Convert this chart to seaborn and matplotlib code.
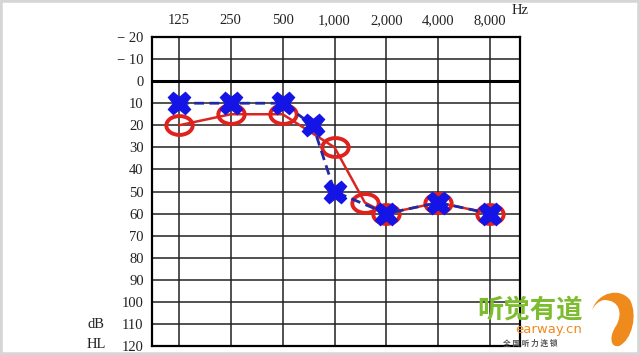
import matplotlib
matplotlib.use("Agg")
import matplotlib.pyplot as plt
import numpy as np
import pandas as pd
import seaborn as sns
from matplotlib.path import Path
from matplotlib.patches import PathPatch, Rectangle
from matplotlib.transforms import Affine2D

# audiogram data (Hz -> dB HL)
freq_labels = ["125", "250", "500", "1,000", "2,000", "4,000", "8,000"]
grid_freqs = [125, 250, 500, 1000, 2000, 4000, 8000]
db_ticks = list(range(-20, 130, 10))

right_freqs = [125, 250, 500, 1000, 1500, 2000, 4000, 8000]
right_db = [20, 15, 15, 30, 55, 60, 55, 60]

left_freqs = [125, 250, 500, 750, 1000, 2000, 4000, 8000]
left_db = [10, 10, 10, 20, 50, 60, 55, 60]

sns.set_theme(style="white")
plt.rcParams["font.family"] = ["Liberation Serif", "DejaVu Serif"]

fig = plt.figure(figsize=(6.4, 3.55), dpi=100)
ax = fig.add_axes([152 / 640, 1 - 346 / 355, 368 / 640, 309 / 355])

ax.set_xscale("log", base=2)
ax.set_xlim(125 / 2 ** (27 / 52), 8000 * 2 ** (30 / 52))
ax.set_ylim(120, -20)

# grid
for f in grid_freqs:
    ax.axvline(f, color="#222222", lw=1.1, zorder=1)
for d in db_ticks:
    ax.axhline(d, color="#222222", lw=1.1, zorder=1)
ax.axhline(0, color="black", lw=2.2, zorder=1)

# ellipse marker for the circles
ellipse = Path.unit_circle().transformed(Affine2D().scale(1.4, 1.0))

df_r = pd.DataFrame({"freq": right_freqs, "db": right_db})
df_l = pd.DataFrame({"freq": left_freqs, "db": left_db})

sns.lineplot(data=df_r, x="freq", y="db", ax=ax, color="#d9261f", lw=1.8,
             marker=ellipse, markersize=19, mfc="none", mec="#e0211d",
             mew=2.8, zorder=3)
sns.lineplot(data=df_l, x="freq", y="db", ax=ax, color="#1c2aa8", lw=2.0,
             ls=(0, (3.5, 2)), marker="X", markersize=16, mfc="#1414e6",
             mec="#1414e6", mew=1, zorder=4)

ax.set_xlabel("")
ax.set_ylabel("")
ax.xaxis.tick_top()
ax.set_xticks(grid_freqs)
ax.set_xticklabels(freq_labels)
ax.set_xticks([], minor=True)
ax.set_yticks(db_ticks)
ax.set_yticklabels([("\u2212 " + str(-d)) if d < 0 else str(d) for d in db_ticks])
ax.tick_params(axis="x", length=0, pad=7, labelsize=10.5, colors="#222222")
ax.tick_params(axis="y", length=0, pad=6, labelsize=10.5, colors="#222222")
for s in ax.spines.values():
    s.set_color("black")
    s.set_linewidth(1.6)

fig.text(520 / 640, 1 - 10 / 355, "Hz", ha="center", va="center", fontsize=10.5, color="#222222")
fig.text(96 / 640, 1 - 325 / 355, "dB", ha="center", va="center", fontsize=10.5, color="#222222")
fig.text(96 / 640, 1 - 344 / 355, "HL", ha="center", va="center", fontsize=10.5, color="#222222")

# watermark
fig.text(530 / 640, 1 - 310 / 355, "听觉有道", ha="center", va="center", fontsize=19,
         fontweight="bold", color="#7cbc2e", family=["Noto Sans CJK SC", "DejaVu Sans"])
fig.text(549 / 640, 1 - 329 / 355, "earway.cn", ha="center", va="center", fontsize=9.5,
         color="#ee8a1e", family=["DejaVu Sans"])
fig.text(530 / 640, 1 - 343 / 355, "全 国 听 力 连 锁", ha="center", va="center", fontsize=5.5,
         fontweight="bold", color="#555555", family=["Noto Sans CJK SC", "DejaVu Sans"])

pts = [(592, 310), (598, 292), (620, 287), (630, 300),
       (638, 315), (632, 340), (619, 346),
       (610, 348), (609, 336), (616, 326),
       (623, 314), (620, 300), (604, 300),
       (598, 301), (594, 306), (592, 310)]
codes = [Path.MOVETO] + [Path.CURVE4] * 15
verts = [(x / 640, 1 - y / 355) for x, y in pts]
fig.patches.append(PathPatch(Path(verts, codes), transform=fig.transFigure,
                             facecolor="#ef8a1c", edgecolor="none"))

# screenshot frame
fig.patches.append(Rectangle((0, 0), 1, 1, transform=fig.transFigure, fill=False,
                             edgecolor="#d6d6d6", lw=4))

fig.savefig("out.png", dpi=100)
